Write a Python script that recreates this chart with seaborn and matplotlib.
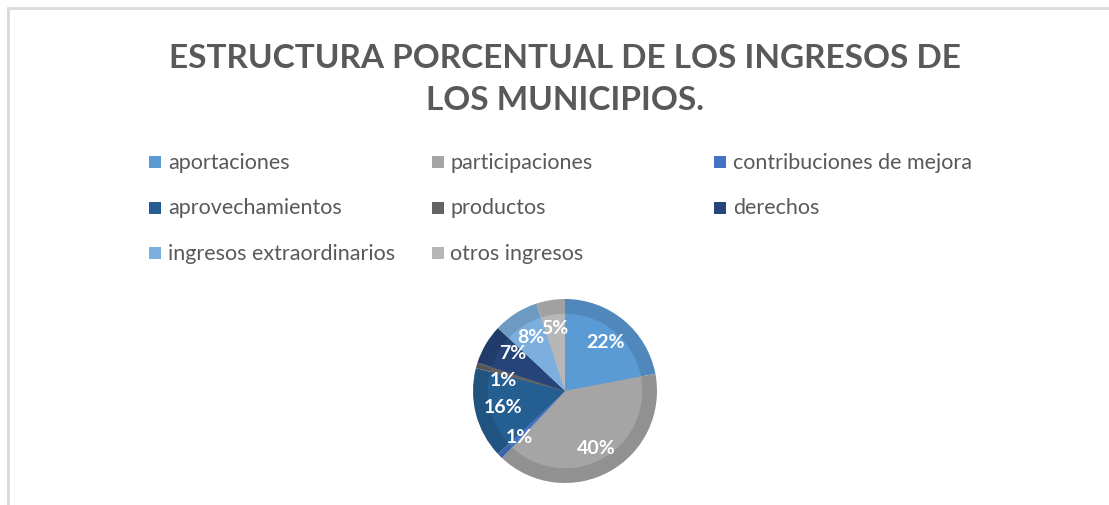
import numpy as np
import matplotlib
matplotlib.use('Agg')
import matplotlib.pyplot as plt
import matplotlib.patches as mpatches
import matplotlib.colors as mcolors
import seaborn as sns

# Data
categorias = ['aportaciones', 'participaciones', 'contribuciones de mejora',
              'aprovechamientos', 'productos', 'derechos',
              'ingresos extraordinarios', 'otros ingresos']
porcentajes = [22, 40, 1, 16, 1, 7, 8, 5]
colores = ['#5B9BD5', '#A5A5A5', '#4472C4', '#255E91',
           '#636363', '#264478', '#7CAFDD', '#B7B7B7']

sns.set_theme(style='white')
plt.rcParams['font.family'] = ['Lato', 'DejaVu Sans']

W, H = 1109, 506
fig = plt.figure(figsize=(W / 100, H / 100), dpi=100)

# chart border (light gray frame)
fig.patches.append(mpatches.Rectangle((8 / W, -0.1), 1.2, (H - 9) / H + 0.1,
                                      transform=fig.transFigure, fill=False,
                                      edgecolor='#D9D9D9', linewidth=2))

# title
fig.text(565 / W, 1 - 58 / H, 'ESTRUCTURA PORCENTUAL DE LOS INGRESOS DE',
         ha='center', va='center', fontsize=24, fontweight='bold', color='#595959')
fig.text(565 / W, 1 - 100 / H, 'LOS MUNICIPIOS.',
         ha='center', va='center', fontsize=24, fontweight='bold', color='#595959')

# legend (3 columns, row-wise)
for i, (name, c) in enumerate(zip(categorias, colores)):
    row, col = divmod(i, 3)
    x = 149 + col * 282.5
    y = 163 + row * 45.5
    fig.patches.append(mpatches.Rectangle((x / W, 1 - (y + 6) / H), 12 / W, 12 / H,
                                          transform=fig.transFigure,
                                          facecolor=c, edgecolor='none'))
    fig.text((x + 19) / W, 1 - y / H, name, ha='left', va='center',
             fontsize=15.5, color='#595959')

# pie
cx, cy, r = 565, 392, 92
ax = fig.add_axes([(cx - r) / W, (H - cy - r) / H, 2 * r / W, 2 * r / H])
oscuros = [tuple(np.array(mcolors.to_rgb(c)) * 0.88) for c in colores]
ax.pie(porcentajes, colors=oscuros, startangle=90, counterclock=False,
       radius=1.0, wedgeprops=dict(linewidth=0))
_, _, autotexts = ax.pie(porcentajes, colors=colores, startangle=90, counterclock=False,
                         radius=0.84, wedgeprops=dict(linewidth=0),
                         autopct='%1.0f%%', pctdistance=0.83,
                         textprops=dict(color='white', fontsize=14, fontweight='bold'))
# small nudge so the two tiny-slice labels don't collide
px, py = autotexts[4].get_position()
autotexts[4].set_position((px, py - 0.07))
px, py = autotexts[5].get_position()
autotexts[5].set_position((px + 0.03, py + 0.06))
ax.set_xlim(-1, 1)
ax.set_ylim(-1, 1)
ax.set_aspect('equal')
ax.axis('off')

fig.savefig('out.png', dpi=100)
